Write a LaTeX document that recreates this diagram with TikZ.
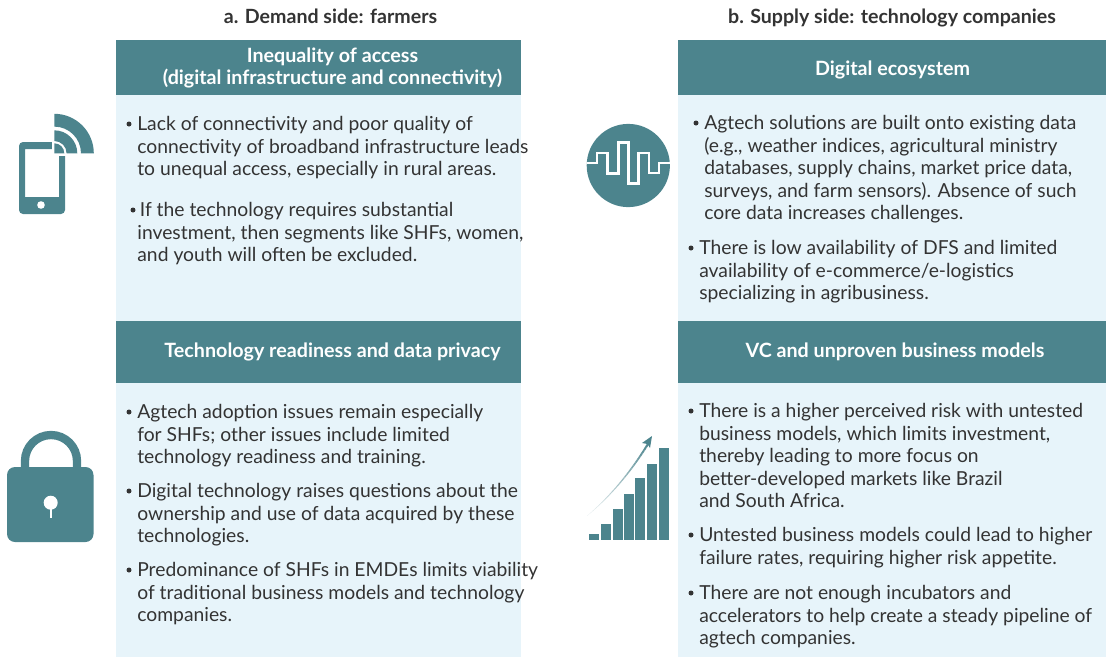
\documentclass[tikz,border=0pt]{standalone}
\usepackage{fontspec}
\setmainfont{Lato}
\definecolor{teal}{HTML}{4C848D}
\definecolor{pale}{HTML}{E7F4FA}
\definecolor{ink}{HTML}{333333}
\tikzset{
 x=1pt,y=-1pt,
 head/.style={fill=teal,draw=none,minimum width=405pt,text=white,anchor=north west,inner sep=0pt},
 headr/.style={head,minimum width=428pt},
 headtext/.style={text=white,font=\fontsize{19.7}{22}\selectfont\bfseries,align=center,inner sep=0pt,anchor=center},
 body/.style={fill=pale,draw=none,anchor=north west,inner sep=0pt,minimum width=405pt},
 bodyr/.style={body,minimum width=428pt},
 title/.style={font=\fontsize{19.6}{22}\selectfont\bfseries,text=ink,anchor=base,inner sep=0pt},
 item/.style={anchor=north west,inner sep=0pt,align=left,text=ink,font=\fontsize{19.3}{22.5}\selectfont},
 icon/.style={fill=teal,draw=none}
}
\newcommand{\bu}[4][5.4pt]{\node[circle,fill=ink,inner sep=0pt,minimum size=5pt] (b#2) at (#3) {};\node[item] (t#2) at ([xshift=#1,yshift=7.5pt]b#2.east) {#4};}
\begin{document}
\begin{tikzpicture}
\useasboundingbox (0,0) rectangle (1106,657);
\node[title] (ta) at (330.5,23) {a. Demand side: farmers};
\node[title] (tb) at (892,23) {b. Supply side: technology companies};
\node[head,minimum height=55pt] (h1) at (116,40) {};
\node[body,minimum height=226pt] (p1) at (116,95) {};
\node[head,minimum height=62pt] (h2) at (116,321) {};
\node[body,minimum height=274pt] (p2) at (116,383) {};
\node[headr,minimum height=55pt] (h3) at (678,40) {};
\node[bodyr,minimum height=226pt] (p3) at (678,95) {};
\node[headr,minimum height=62pt] (h4) at (678,321) {};
\node[bodyr,minimum height=274pt] (p4) at (678,383) {};
\node[headtext] (l1) at (332.5,68) {Inequality of access\\(digital infrastructure and connectivity)};
\node[headtext] (l2) at (332.5,352) {Technology readiness and data privacy};
\node[headtext] (l3) at (892.5,69.5) {Digital ecosystem};
\node[headtext] (l4) at (895,352) {VC and unproven business models};
\bu{a}{129,124}{Lack of connectivity and poor quality of\\connectivity of broadband infrastructure leads\\to unequal access, especially in rural areas.}
\bu[1.5pt]{b}{133,210}{\hspace*{2.5pt}If the technology requires substantial\\investment, then segments like SHFs, women,\\and youth will often be excluded.}
\bu{c}{129,412}{Agtech adoption issues remain especially\\for SHFs; other issues include limited\\technology readiness and training.}
\bu{d}{129,491}{Digital technology raises questions about the\\ownership and use of data acquired by these\\technologies.}
\bu{e}{129,570}{Predominance of SHFs in EMDEs limits viability\\of traditional business models and technology\\companies.}
\bu{f}{696,123}{Agtech solutions are built onto existing data\\(e.g., weather indices, agricultural ministry\\databases, supply chains, market price data,\\surveys, and farm sensors). Absence of such\\core data increases challenges.}
\bu{g}{691,248}{There is low availability of DFS and limited\\availability of e-commerce/e-logistics\\specializing in agribusiness.}
\bu{h}{691,411}{There is a higher perceived risk with untested\\business models, which limits investment,\\thereby leading to more focus on\\better-developed markets like Brazil\\and South Africa.}
\bu{i}{691,535}{Untested business models could lead to higher\\failure rates, requiring higher risk appetite.}
\bu{j}{691,593}{There are not enough incubators and\\accelerators to help create a steady pipeline of\\agtech companies.}
% phone
\fill[icon,rounded corners=4pt,even odd rule] (19,142) rectangle (65,214) (25,149) [sharp corners] rectangle (59,197);
\fill[white] (41,205) circle (3.8);
\fill[white] (52,138) rectangle (70,155.5);
\fill[icon] (54.3,113.8) arc (-90:0:39.5) -- (81,153.3) arc (0:-90:26.7) -- cycle;
\fill[icon] (54.3,130.3) arc (-90:0:23) -- (66.6,153.3) arc (0:-90:12.3) -- cycle;
\fill[icon] (54.3,143.3) arc (-90:0:10) -- (54.3,153.3) -- cycle;
% lock
\draw[teal,line width=8.3pt] (25,468) -- (25,461) arc (180:360:26) -- (77,468);
\fill[icon,rounded corners=8pt] (7,467) rectangle (93.5,542);
\fill[white] (50.7,502.7) circle (7);
\fill[white] (49.5,505) rectangle (52,518);
% circle
\fill[icon] (628.3,165.5) circle (41.6);
\draw[white,line width=2.4pt] (586.7,162.7) -- (596.7,162.7) -- (596.7,152.7) -- (607.3,152.7) -- (607.3,173.3) -- (618.3,173.3) -- (618.3,142.3) -- (628.3,142.3) -- (628.3,183.3) -- (638.3,183.3) -- (638.3,152.7) -- (649,152.7) -- (649,172.7) -- (659,172.7) -- (659,162.7) -- (670,162.7);
% bars
\foreach \a/\b in {589/534,601/524,613/509,624/494,635/478,647/464,659/448}{
 \fill[icon] (\a,\b) rectangle ({\a+10},540);}
% growth arrow
\foreach \i in {0,...,24}{
 \pgfmathsetmacro{\ta}{\i/25}
 \pgfmathsetmacro{\tb}{(\i+1)/25}
 \pgfmathsetmacro{\xa}{(1-\ta)^3*587+3*(1-\ta)^2*\ta*612+3*(1-\ta)*\ta^2*632+\ta^3*648}
 \pgfmathsetmacro{\ya}{(1-\ta)^3*516+3*(1-\ta)^2*\ta*495+3*(1-\ta)*\ta^2*470+\ta^3*444}
 \pgfmathsetmacro{\xb}{(1-\tb)^3*587+3*(1-\tb)^2*\tb*612+3*(1-\tb)*\tb^2*632+\tb^3*648}
 \pgfmathsetmacro{\yb}{(1-\tb)^3*516+3*(1-\tb)^2*\tb*495+3*(1-\tb)*\tb^2*470+\tb^3*444}
 \pgfmathsetmacro{\lw}{0.3+1.9*\ta}
 \pgfmathtruncatemacro{\pc}{10+90*\ta}
 \draw[teal!\pc!white,line width=\lw pt] (\xa,\ya) -- (\xb,\yb);
}
\fill[teal] (652,436) -- (650,448) -- (647.5,444) -- (642,443) -- cycle;
\end{tikzpicture}
\end{document}
